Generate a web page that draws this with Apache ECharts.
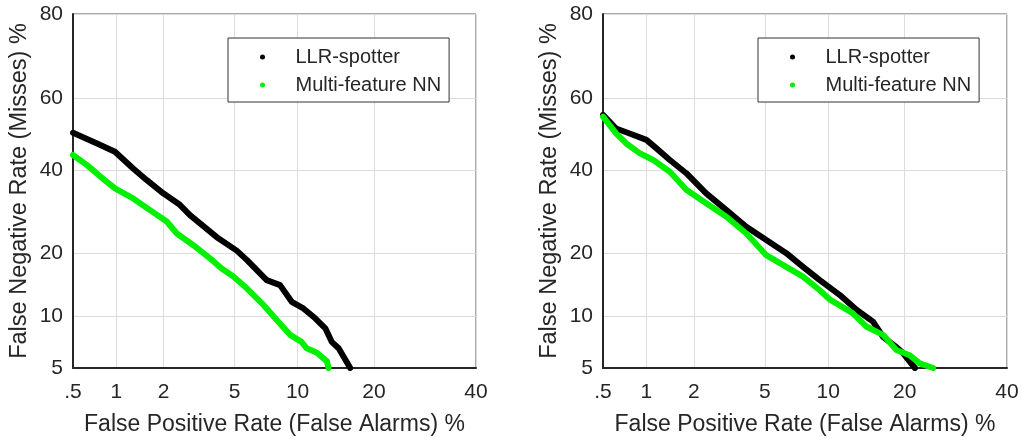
<!DOCTYPE html>
<html>
<head>
<meta charset="utf-8">
<script src="https://cdn.jsdelivr.net/npm/echarts@6/dist/echarts.min.js"></script>
<style>
  html, body { margin: 0; padding: 0; background: #fff; }
  #chart { width: 1022px; height: 438px; }
</style>
</head>
<body>
<div id="chart"></div>
<script>
// DET curves: false alarm rate (x) vs miss rate (y), both in percent, on normal-deviate axes.

// Tick positions (percent) and their printed labels
const xTicks = [0.5, 1, 2, 5, 10, 20, 40];
const xTickLabels = ['.5', '1', '2', '5', '10', '20', '40'];
const yTicks = [5, 10, 20, 40, 60, 80];
const yTickLabels = ['5', '10', '20', '40', '60', '80'];

// Left panel
const llrLeftFP = [0.5, 0.74, 0.98, 1.29, 1.57, 1.99, 2.5, 2.86, 4.03, 5.13, 5.77, 7.22, 8.34, 9.42, 10.6, 11.9, 13.1, 13.9, 14.8, 16.4];
const llrLeftFN = [50.3, 47.3, 45.0, 40.4, 37.3, 33.8, 30.9, 28.4, 23.4, 20.6, 18.8, 15.2, 14.4, 11.9, 11.0, 9.75, 8.6, 7.2, 6.6, 5.0];
const nnLeftFP = [0.5, 0.63, 0.78, 0.98, 1.29, 1.65, 2.09, 2.40, 2.99, 3.70, 4.28, 4.93, 5.77, 6.95, 8.05, 9.26, 10.4, 10.95, 12.1, 13.3, 13.5];
const nnLeftFN = [44.1, 41.3, 38.2, 35.1, 32.5, 29.6, 26.9, 24.2, 21.7, 19.1, 17.2, 15.8, 13.9, 11.5, 9.55, 7.9, 7.2, 6.6, 6.2, 5.5, 5.0];

// Right panel
const llrRightFP = [0.5, 0.62, 0.77, 1.0, 1.16, 1.42, 1.80, 2.37, 3.10, 3.99, 5.08, 6.40, 7.69, 9.18, 11.2, 13.2, 15.3, 16.7, 18.7, 19.7, 21.7];
const llrRightFN = [55.3, 51.5, 50.1, 48.3, 46.0, 42.7, 39.1, 33.8, 29.6, 25.7, 22.8, 20.1, 17.5, 15.2, 12.9, 10.8, 9.35, 7.7, 6.7, 6.2, 5.0];
const nnRightFP = [0.5, 0.62, 0.73, 0.90, 1.11, 1.42, 1.80, 2.37, 3.10, 3.99, 5.08, 6.40, 7.69, 9.18, 10.2, 12.7, 14.4, 16.7, 18.7, 20.8, 22.5, 24.9];
const nnRightFN = [54.8, 50.1, 47.3, 44.6, 42.7, 39.5, 34.7, 31.3, 28.0, 24.2, 19.7, 17.5, 15.8, 13.6, 12.2, 10.4, 8.8, 7.9, 6.45, 6.0, 5.35, 5.0];

const seriesNames = ['LLR-spotter', 'Multi-feature NN'];

// Inverse standard normal CDF (Acklam's rational approximation)
function probit(p) {
  const a = [-3.969683028665376e+01, 2.209460984245205e+02, -2.759285104469687e+02,
             1.383577518672690e+02, -3.066479806614716e+01, 2.506628277459239e+00];
  const b = [-5.447609879822406e+01, 1.615858368580409e+02, -1.556989798598866e+02,
             6.680131188771972e+01, -1.328068155288572e+01];
  const c = [-7.784894002430293e-03, -3.223964580411365e-01, -2.400758277161838e+00,
             -2.549732539343734e+00, 4.374664141464968e+00, 2.938163982698783e+00];
  const d = [7.784695709041462e-03, 3.224671290700398e-01, 2.445134137142996e+00,
             3.754408661907416e+00];
  const pLow = 0.02425, pHigh = 1 - pLow;
  let q, r;
  if (p < pLow) {
    q = Math.sqrt(-2 * Math.log(p));
    return (((((c[0]*q+c[1])*q+c[2])*q+c[3])*q+c[4])*q+c[5]) /
           ((((d[0]*q+d[1])*q+d[2])*q+d[3])*q+1);
  } else if (p <= pHigh) {
    q = p - 0.5; r = q * q;
    return (((((a[0]*r+a[1])*r+a[2])*r+a[3])*r+a[4])*r+a[5])*q /
           (((((b[0]*r+b[1])*r+b[2])*r+b[3])*r+b[4])*r+1);
  } else {
    q = Math.sqrt(-2 * Math.log(1 - p));
    return -(((((c[0]*q+c[1])*q+c[2])*q+c[3])*q+c[4])*q+c[5]) /
            ((((d[0]*q+d[1])*q+d[2])*q+d[3])*q+1);
  }
}

const pct = v => probit(v / 100);
const toPoints = (fp, fn) => fp.map((x, i) => [pct(x), pct(fn[i])]);

function labelFor(ticks, labels) {
  const pos = ticks.map(pct);
  return function (v) {
    let best = 0;
    for (let i = 1; i < pos.length; i++) {
      if (Math.abs(pos[i] - v) < Math.abs(pos[best] - v)) best = i;
    }
    return labels[best];
  };
}

const FONT = '"Liberation Sans", Arial, Helvetica, sans-serif';
const TXT = '#262626';

const grids = [
  { left: 73, top: 14, width: 403, height: 354 },
  { left: 603, top: 14, width: 404, height: 354 }
];

function xAxisFor(i) {
  return {
    type: 'value', gridIndex: i,
    min: pct(xTicks[0]), max: pct(xTicks[xTicks.length - 1]),
    name: 'False Positive Rate (False Alarms) %',
    nameLocation: 'middle', nameGap: 45,
    nameTextStyle: { fontFamily: FONT, fontSize: 23, color: TXT },
    axisLine: { show: true, onZero: false, lineStyle: { color: '#262626', width: 2 } },
    axisTick: { show: false, customValues: xTicks.map(pct) },
    axisLabel: {
      customValues: xTicks.map(pct), formatter: labelFor(xTicks, xTickLabels),
      fontFamily: FONT, fontSize: 21, color: TXT, margin: 14,
      showMinLabel: true, showMaxLabel: true
    },
    splitLine: { show: true, lineStyle: { color: '#dcdcdc', width: 1 } }
  };
}

function yAxisFor(i) {
  return {
    type: 'value', gridIndex: i,
    min: pct(yTicks[0]), max: pct(yTicks[yTicks.length - 1]),
    name: 'False Negative Rate (Misses) %',
    nameLocation: 'middle', nameGap: 41, nameRotate: 90,
    nameTextStyle: { fontFamily: FONT, fontSize: 23.5, color: TXT },
    axisLine: { show: true, onZero: false, lineStyle: { color: '#262626', width: 2 } },
    axisTick: { show: false, customValues: yTicks.map(pct) },
    axisLabel: {
      customValues: yTicks.map(pct), formatter: labelFor(yTicks, yTickLabels),
      fontFamily: FONT, fontSize: 21, color: TXT, margin: 10,
      showMinLabel: true, showMaxLabel: true
    },
    splitLine: { show: true, lineStyle: { color: '#dcdcdc', width: 1 } }
  };
}

function curve(name, color, idx, data) {
  return {
    name, type: 'line', xAxisIndex: idx, yAxisIndex: idx,
    data, showSymbol: false, symbol: 'circle', color,
    lineStyle: { color, width: 6, cap: 'round', join: 'round' },
    itemStyle: { color },
    animation: false, silent: true
  };
}

function legendFor(left) {
  return {
    orient: 'vertical', left, top: 38,
    data: seriesNames, icon: 'circle',
    itemWidth: 56, itemHeight: 5, itemGap: 8,
    padding: [9, 8, 7, 32],
    backgroundColor: '#fff', borderColor: '#333', borderWidth: 1,
    textStyle: { fontFamily: FONT, fontSize: 20, color: TXT },
    selectedMode: false
  };
}

const chart = echarts.init(document.getElementById('chart'), null, { renderer: 'canvas' });
chart.setOption({
  animation: false,
  backgroundColor: '#fff',
  grid: grids.map(g => Object.assign({
    show: true, borderColor: '#555', borderWidth: 1, backgroundColor: 'transparent',
    containLabel: false, outerBoundsMode: 'none'
  }, g)),
  xAxis: [xAxisFor(0), xAxisFor(1)],
  yAxis: [yAxisFor(0), yAxisFor(1)],
  legend: [legendFor(228), legendFor(758)],
  series: [
    curve(seriesNames[0], '#000000', 0, toPoints(llrLeftFP, llrLeftFN)),
    curve(seriesNames[1], '#00f000', 0, toPoints(nnLeftFP, nnLeftFN)),
    curve(seriesNames[0], '#000000', 1, toPoints(llrRightFP, llrRightFN)),
    curve(seriesNames[1], '#00f000', 1, toPoints(nnRightFP, nnRightFN))
  ]
});
</script>
</body>
</html>
